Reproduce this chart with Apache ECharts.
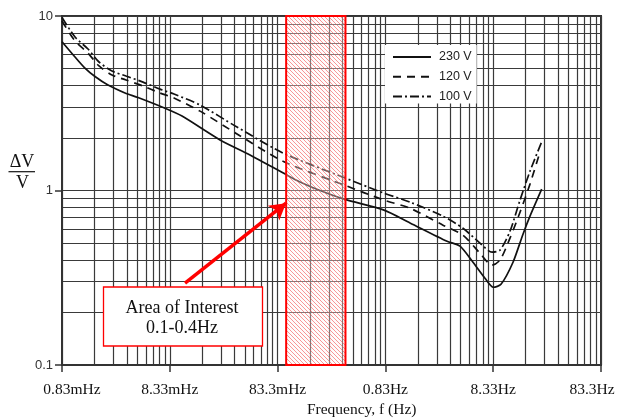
<!DOCTYPE html>
<html><head><meta charset="utf-8">
<script src="https://cdn.jsdelivr.net/npm/echarts@6/dist/echarts.min.js"></script>
<style>html,body{margin:0;padding:0;background:#fff}#c{width:617px;height:419px}</style>
</head><body><div id="c"></div>
<script>
// frequency (Hz) at the left edge of the axis; each decade tick = F0 * 10^k
const F0 = 0.000833;
const xTickLabels = ['0.83mHz', '8.33mHz', '83.3mHz', '0.83Hz', '8.33Hz', '83.3Hz'];
const seriesNames = ['230 V', '120 V', '100 V'];

const freq230 = [0.000833, 0.0011, 0.00136, 0.001686, 0.002226, 0.0032, 0.004223, 0.00752, 0.01081, 0.02435, 0.0462, 0.1019, 0.1345, 0.2061, 0.3514, 0.8084, 1.409, 3.106, 4.098, 5.41, 6.99, 8.35, 9.84, 12.72, 15.74, 18.28, 23.47];
const dv230 = [7.12, 5.82, 5.03, 4.50, 4.02, 3.62, 3.41, 2.96, 2.67, 1.95, 1.60, 1.225, 1.12, 1.00, 0.889, 0.772, 0.652, 0.512, 0.480, 0.388, 0.314, 0.279, 0.290, 0.388, 0.562, 0.713, 1.018];

const freq120 = [0.000833, 0.0011, 0.001452, 0.001836, 0.002424, 0.00327, 0.0047, 0.00676, 0.00911, 0.01588, 0.035, 0.0935, 0.3514, 0.8084, 1.409, 2.85, 4.37, 6.28, 8.12, 9.63, 11.92, 14.77, 18.28, 22.16];
const dv120 = [9.36, 7.19, 6.13, 5.17, 4.59, 4.30, 3.97, 3.62, 3.39, 2.85, 2.11, 1.47, 1.07, 0.881, 0.792, 0.633, 0.554, 0.437, 0.373, 0.399, 0.533, 0.751, 1.088, 1.595];

const freq100 = [0.000833, 0.0011, 0.001452, 0.001836, 0.002424, 0.00327, 0.0047, 0.00676, 0.00911, 0.01588, 0.035, 0.0935, 0.3514, 0.8084, 1.409, 2.85, 4.37, 6.28, 8.12, 9.63, 11.92, 14.77, 18.28, 23.62];
const dv100 = [9.80, 7.58, 6.47, 5.45, 4.84, 4.53, 4.18, 3.81, 3.57, 3.09, 2.31, 1.64, 1.18, 0.966, 0.858, 0.713, 0.608, 0.499, 0.443, 0.455, 0.584, 0.881, 1.29, 1.92];

// annotation: area of interest (Hz) and arrow (Hz, dV/V)
const areaOfInterest = [0.1, 0.355];
const arrowFrom = [0.01153, 0.295];
const arrowTo = [0.0997, 0.846];

const toPts = (fs, vs) => fs.map((f, i) => [f / F0, vs[i]]);

const T = 4;
const pat = document.createElement('canvas');
pat.width = T; pat.height = T;
const g = pat.getContext('2d');
g.fillStyle = 'rgba(255,245,245,0.35)';
g.fillRect(0, 0, T, T);
g.strokeStyle = 'rgba(240,70,70,0.55)';
g.lineWidth = 1;
g.beginPath();
g.moveTo(-1, -1); g.lineTo(T + 1, T + 1);
g.moveTo(-1, T - 1); g.lineTo(1, T + 1);
g.moveTo(T - 1, -1); g.lineTo(T + 1, 1);
g.stroke();

const gridLine = { color: '#3a3a3a', width: 1.2 };
const chart = echarts.init(document.getElementById('c'));
chart.setOption({
  animation: false,
  backgroundColor: '#fff',
  grid: { left: 62, right: 16, top: 16, bottom: 54, show: true, borderColor: '#333', borderWidth: 2,
          containLabel: false, outerBoundsMode: 'none' },
  xAxis: {
    type: 'log', logBase: 10, min: 1, max: 100000, splitNumber: 5,
    axisLine: { show: true, lineStyle: { color: '#333', width: 2 } },
    axisTick: { show: true, length: 7, lineStyle: { color: '#333', width: 1.5 } },
    axisLabel: {
      margin: 17, color: '#111', fontFamily: 'Liberation Serif', fontSize: 15.5, hideOverlap: false,
      formatter: v => {
        const i = Math.round(Math.log10(v));
        if (i === 0) return '{first|' + xTickLabels[i] + '}';
        if (i === xTickLabels.length - 1) return '{last|' + xTickLabels[i] + '}';
        return xTickLabels[i];
      },
      rich: {
        first: { fontFamily: 'Liberation Serif', fontSize: 15.5, color: '#111', padding: [0, 0, 0, 20] },
        last: { fontFamily: 'Liberation Serif', fontSize: 15.5, color: '#111', padding: [0, 18, 0, 0] }
      }
    },
    splitLine: { show: true, lineStyle: gridLine },
    minorTick: { show: false, splitNumber: 9 },
    minorSplitLine: { show: true, lineStyle: gridLine }
  },
  yAxis: {
    type: 'log', logBase: 10, min: 0.1, max: 10, splitNumber: 2,
    axisLine: { show: true, lineStyle: { color: '#333', width: 2 } },
    axisTick: { show: true, length: 7, lineStyle: { color: '#333', width: 1.5 } },
    axisLabel: { margin: 9, color: '#333', fontFamily: 'Liberation Sans', fontSize: 13 },
    splitLine: { show: true, lineStyle: gridLine },
    minorTick: { show: false, splitNumber: 9 },
    minorSplitLine: { show: true, lineStyle: gridLine }
  },
  legend: {
    data: seriesNames, orient: 'vertical', left: 385, top: 45,
    padding: [5, 5, 0, 7], itemWidth: 38, itemHeight: 14, itemGap: 5.8,
    backgroundColor: '#fff',
    itemStyle: { opacity: 0 },
    textStyle: { fontFamily: 'Liberation Sans', fontSize: 12.5, color: '#222', padding: [0, 0, 0, 3], lineHeight: 14 }
  },
  series: [
    { name: seriesNames[0], type: 'line', data: toPts(freq230, dv230), showSymbol: false, symbol: 'none', smooth: 0.25,
      lineStyle: { color: '#111', width: 1.7, type: 'solid' }, itemStyle: { color: '#111' } },
    { name: seriesNames[1], type: 'line', data: toPts(freq120, dv120), showSymbol: false, symbol: 'none', smooth: 0.25,
      lineStyle: { color: '#111', width: 1.7, type: [8, 6] }, itemStyle: { color: '#111' } },
    { name: seriesNames[2], type: 'line', data: toPts(freq100, dv100), showSymbol: false, symbol: 'none', smooth: 0.25,
      lineStyle: { color: '#111', width: 1.7, type: [9, 3, 2, 3] }, itemStyle: { color: '#111' } },
    { name: 'aoi', type: 'line', data: [], z: 5,
      markArea: {
        silent: true, z: 5,
        itemStyle: { color: { image: pat, repeat: 'repeat' }, borderColor: '#ff0000', borderWidth: 2 },
        data: [[{ xAxis: areaOfInterest[0] / F0, yAxis: 10 }, { xAxis: areaOfInterest[1] / F0, yAxis: 0.1 }]]
      },
      markLine: {
        silent: true, z: 6, symbol: ['none', 'arrow'], symbolSize: [14, 16],
        label: { show: false },
        lineStyle: { color: '#ff0000', width: 3.5, type: 'solid' },
        data: [[{ coord: [arrowFrom[0] / F0, arrowFrom[1]] }, { coord: [arrowTo[0] / F0, arrowTo[1]] }]]
      }
    }
  ],
  graphic: [
    { type: 'rect', z: 100, shape: { x: 103.5, y: 287, width: 159, height: 59 },
      style: { fill: '#fff', stroke: '#ff0000', lineWidth: 1.3 } },
    { type: 'text', z: 101, x: 182, y: 308.5,
      style: { text: 'Area of Interest', font: '18px "Liberation Serif"', fill: '#111', textAlign: 'center', textVerticalAlign: 'middle' } },
    { type: 'text', z: 101, x: 182, y: 328.5,
      style: { text: '0.1-0.4Hz', font: '18px "Liberation Serif"', fill: '#111', textAlign: 'center', textVerticalAlign: 'middle' } },
    { type: 'text', z: 101, x: 361.7, y: 410,
      style: { text: 'Frequency, f (Hz)', font: '15.5px "Liberation Serif"', fill: '#111', textAlign: 'center', textVerticalAlign: 'middle' } },
    { type: 'text', z: 101, x: 22, y: 162.5,
      style: { text: 'ΔV', font: '18px "Liberation Serif"', fill: '#111', textAlign: 'center', textVerticalAlign: 'middle' } },
    { type: 'line', z: 101, shape: { x1: 8.5, y1: 171.7, x2: 35, y2: 171.7 }, style: { stroke: '#111', lineWidth: 1.2 } },
    { type: 'text', z: 101, x: 22.5, y: 183.5,
      style: { text: 'V', font: '18px "Liberation Serif"', fill: '#111', textAlign: 'center', textVerticalAlign: 'middle' } }
  ]
});
</script></body></html>
